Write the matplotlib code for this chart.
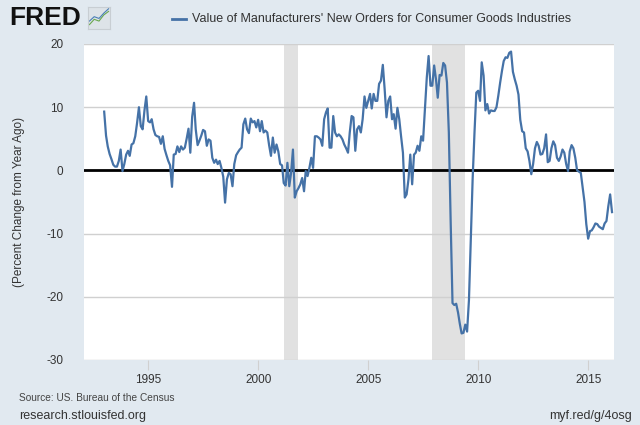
import matplotlib
matplotlib.use('Agg')
import matplotlib.pyplot as plt
import matplotlib.dates as mdates
import pandas as pd

# Percent change from year ago, monthly, Jan 1993 - Feb 2016
pct_change = [
    # 1993
    9.3, 5.5, 3.8, 2.6, 1.8, 0.9, 0.6, 0.6, 1.5, 3.3, -0.1, 1.0,
    # 1994
    2.5, 3.1, 2.3, 4.1, 4.3, 5.4, 7.5, 10.0, 7.0, 6.5, 9.5, 11.7,
    # 1995
    7.8, 7.6, 8.1, 6.5, 5.6, 5.4, 5.3, 4.2, 5.4, 3.4, 2.4, 1.5,
    # 1996
    0.8, -2.6, 2.5, 2.6, 3.8, 2.9, 3.8, 3.3, 3.6, 5.0, 6.6, 2.8,
    # 1997
    8.5, 10.7, 6.5, 4.0, 4.7, 5.5, 6.4, 6.2, 3.9, 4.9, 4.7, 2.0,
    # 1998
    1.2, 1.7, 1.0, 1.5, 0.4, -1.0, -5.1, -1.4, -0.4, -0.6, -2.5, 1.0,
    # 1999
    2.4, 2.9, 3.3, 3.6, 7.3, 8.2, 6.5, 5.9, 8.2, 7.6, 7.8, 6.8,
    # 2000
    8.0, 6.2, 7.8, 6.0, 6.3, 6.0, 4.0, 2.3, 5.2, 2.8, 4.1, 3.0,
    # 2001
    1.0, 0.8, -2.0, -2.4, 1.2, -2.5, -0.4, 3.3, -4.3, -3.3, -2.8, -2.2,
    # 2002
    -1.2, -3.3, -0.1, -0.9, 0.4, 2.0, 0.4, 5.4, 5.4, 5.2, 4.9, 3.9,
    # 2003
    8.1, 9.2, 9.8, 3.6, 3.6, 8.6, 6.0, 5.4, 5.7, 5.4, 4.9, 4.1,
    # 2004
    3.5, 2.8, 6.0, 8.6, 8.4, 3.1, 6.5, 7.0, 6.0, 8.1, 11.7, 9.9,
    # 2005
    11.0, 12.1, 9.8, 12.1, 11.0, 11.0, 13.7, 14.2, 16.7, 12.9, 8.4, 11.0,
    # 2006
    11.7, 8.1, 8.9, 6.6, 9.9, 8.1, 5.4, 2.8, -4.3, -3.8, -1.4, 2.5,
    # 2007
    -2.2, 2.5, 2.8, 3.9, 3.1, 5.4, 4.7, 9.7, 14.7, 18.1, 13.4, 13.4,
    # 2008
    16.6, 14.4, 11.5, 15.1, 15.0, 17.0, 16.6, 13.9, 6.0, -8.0, -21.0, -21.3,
    # 2009
    -21.1, -22.5, -24.2, -25.8, -25.7, -24.4, -25.5, -20.5, -11.0, -1.4, 6.0, 12.3,
    # 2010
    12.6, 11.0, 17.1, 15.0, 9.5, 10.5, 9.0, 9.5, 9.4, 9.4, 10.0, 11.8,
    # 2011
    13.9, 15.8, 17.3, 17.9, 17.8, 18.6, 18.8, 15.6, 14.4, 13.4, 12.0, 8.0,
    # 2012
    6.2, 6.0, 3.5, 3.0, 1.5, -0.6, 1.0, 3.5, 4.5, 3.9, 2.5, 2.6,
    # 2013
    3.5, 5.7, 1.3, 1.5, 3.5, 4.6, 4.0, 2.0, 1.5, 2.2, 3.3, 2.8,
    # 2014
    1.0, -0.1, 3.0, 4.0, 3.5, 2.0, 0.0, -0.2, -0.4, -2.7, -5.0, -8.5,
    # 2015
    -10.8, -9.6, -9.5, -9.0, -8.4, -8.5, -8.9, -9.1, -9.3, -8.4, -8.0, -5.7,
    # 2016
    -3.8, -6.6,
]
dates = pd.date_range('1993-01-01', periods=len(pct_change), freq='MS')

recession_starts = ['2001-03-01', '2007-12-01']
recession_ends = ['2001-11-01', '2009-06-01']

y_ticks = [-30, -20, -10, 0, 10, 20]
x_tick_years = [1995, 2000, 2005, 2010, 2015]

series_name = "Value of Manufacturers' New Orders for Consumer Goods Industries"

bg = '#e1e9f0'
line_blue = '#4572a7'
text_col = '#333333'

plt.rcParams['font.family'] = ['Liberation Sans', 'DejaVu Sans']
plt.rcParams['axes.unicode_minus'] = False

fig = plt.figure(figsize=(6.4, 4.25), dpi=100, facecolor=bg)
ax = fig.add_axes([84 / 640, 1 - 360 / 425, 530 / 640, 316 / 425])
ax.set_facecolor('white')

# recession bars
for s, e in zip(recession_starts, recession_ends):
    ax.axvspan(pd.Timestamp(s), pd.Timestamp(e), color='#e1e1e1', lw=0, zorder=0)

# horizontal grid
for t in y_ticks:
    if t != 0:
        ax.axhline(t, color='#d0d0d0', lw=1, zorder=1)
ax.axhline(0, color='black', lw=2, zorder=2)

ax.plot(dates, pct_change, color=line_blue, lw=1.6, zorder=3)

ax.set_xlim(pd.Timestamp('1992-02-01'), pd.Timestamp('2016-03-05'))
ax.set_ylim(-30, 20)
ax.set_yticks(y_ticks)
ax.set_xticks([pd.Timestamp(f'{y}-01-01') for y in x_tick_years])
ax.xaxis.set_major_formatter(mdates.DateFormatter('%Y'))

for sp in ax.spines.values():
    sp.set_visible(False)
ax.tick_params(axis='y', length=0, pad=15, labelsize=8.5, labelcolor=text_col)
ax.tick_params(axis='x', length=7, color='#d0d0d0', pad=3, labelsize=8.5, labelcolor=text_col)

ax.set_ylabel('(Percent Change from Year Ago)', fontsize=8.5, color=text_col, labelpad=15)

# header: FRED logo and legend
fig.text(9 / 640, 1 - 18 / 425, 'FRED', fontsize=19, fontweight='bold', color='#111111',
         va='center', ha='left')
icon = fig.add_axes([88 / 640, 1 - 29 / 425, 22 / 640, 22 / 425])
icon.set_facecolor('#dde3e8')
icon.set_xticks([])
icon.set_yticks([])
for sp in icon.spines.values():
    sp.set_color('#c8ced3')
icon_x = [0, 1, 2, 3, 4]
icon_green = [1, 2.2, 1.8, 3.2, 4]
icon_blue = [1.8, 2.8, 2.4, 3.6, 4.6]
icon.plot(icon_x, icon_green, color='#6aa84f', lw=0.8)
icon.plot(icon_x, icon_blue, color='#4a7fb5', lw=0.8)
icon.set_xlim(-0.3, 4.3)
icon.set_ylim(0, 5)

fig.lines.append(plt.Line2D([172 / 640, 186 / 640], [1 - 19 / 425, 1 - 19 / 425],
                            transform=fig.transFigure, color=line_blue, lw=2))
fig.text(192 / 640, 1 - 19 / 425, series_name, fontsize=9, color=text_col,
         va='center', ha='left')

# footer
fig.text(19 / 640, 1 - 398 / 425, 'Source: US. Bureau of the Census', fontsize=7.3,
         color='#444444', va='center', ha='left')
fig.text(19 / 640, 1 - 416 / 425, 'research.stlouisfed.org', fontsize=9,
         color=text_col, va='center', ha='left')
fig.text(632 / 640, 1 - 416 / 425, 'myf.red/g/4osg', fontsize=9,
         color=text_col, va='center', ha='right')

fig.savefig('out.png', dpi=100, facecolor=bg)
